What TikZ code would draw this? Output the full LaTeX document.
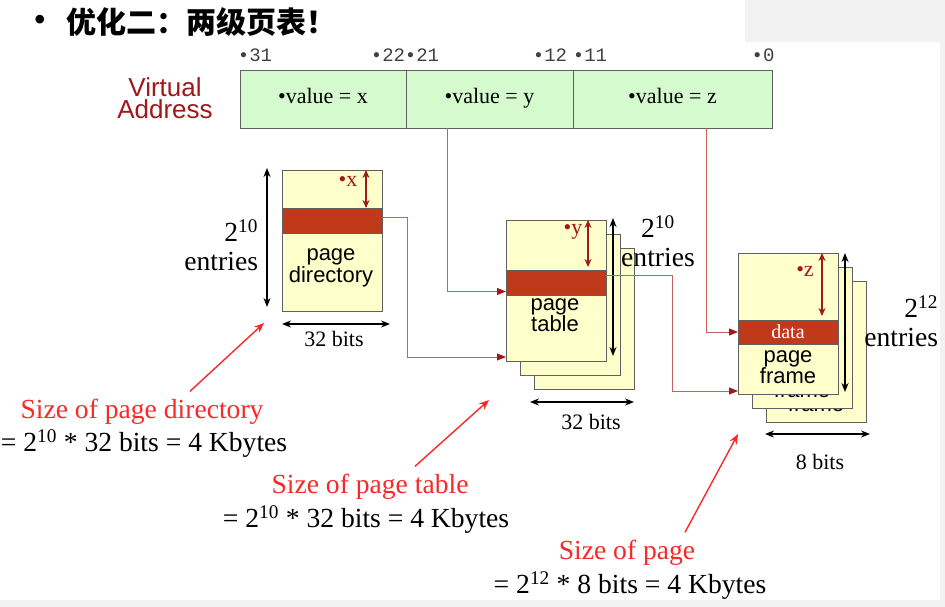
\documentclass[tikz,border=0pt]{standalone}
\usepackage{fontspec}
\setmainfont{Liberation Serif}
\setsansfont{Liberation Sans}
\setmonofont{Liberation Mono}
\newfontfamily\cjk{Noto Sans CJK SC}
\usetikzlibrary{arrows.meta, positioning, calc}
\definecolor{vagreen}{RGB}{212,250,206}
\definecolor{pageyellow}{RGB}{255,255,204}
\definecolor{bandred}{RGB}{192,57,27}
\definecolor{darkred}{RGB}{160,24,24}
\definecolor{linkred}{RGB}{200,96,96}
\definecolor{notered}{RGB}{250,40,40}
\definecolor{boxgray}{RGB}{96,96,96}
\definecolor{slidegray}{RGB}{242,242,242}

\begin{document}
\begin{tikzpicture}[
		x=1pt, y=-1pt,
		every node/.style={inner sep=0pt, outer sep=0pt},
		serifbig/.style={font=\fontsize{27.6}{29}\selectfont},
		serifsmall/.style={font=\fontsize{22}{22}\selectfont},
		vafield/.style={
				draw=boxgray,
				fill=vagreen,
				minimum height=58pt,
				anchor=north west,
				text height=14pt, % same baseline in every field
				text depth=5pt,
				serifsmall
			},
		bitno/.style={font=\ttfamily\fontsize{19}{19}\selectfont, text=black!75},
		page/.style={
				draw=boxgray,
				fill=pageyellow,
				minimum width=100pt,
				minimum height=141pt,
				anchor=north west
			},
		band/.style={draw=boxgray, fill=bandred, minimum width=100pt, anchor=north west},
		pagename/.style={font=\sffamily\fontsize{22}{18}\selectfont, align=center},
		ptrlbl/.style={serifsmall, text=darkred},
		ptr/.style={draw=darkred, line width=1.4pt, {Stealth[length=8pt,width=7pt]}-{Stealth[length=8pt,width=7pt]}},
		dim/.style={draw=black, line width=1.6pt, {Stealth[length=9pt,width=7pt]}-{Stealth[length=9pt,width=7pt]}},
		link/.style={draw=linkred, line width=1pt, -{Triangle[length=9pt,width=7pt,color=darkred]}},
		note/.style={draw=notered, line width=1.4pt, -{Stealth[length=10pt,width=8pt]}}
	]
	\useasboundingbox (0,0) rectangle (945,607);
	% slide background
	\fill[slidegray] (0,0) rectangle (945,607);
	\fill[white] (0,0) -- (745,0) -- (745,42) -- (940,42) -- (940,600) -- (0,600) -- cycle;

	% title
	\node[font=\sffamily\bfseries\fontsize{30}{30}\selectfont] (bul) at (40,22) {•};
	\node[font=\cjk\bfseries\fontsize{30}{30}\selectfont, anchor=west] (title) at (66,22) {优化二：两级页表！};

	% virtual address
	\node[font=\sffamily\fontsize{26}{22}\selectfont, text=darkred, align=center] (valabel) at (165,98) {Virtual\\Address};
	\node[vafield, minimum width=166pt] (vx) at (240,70) {•value = x};
	\node[vafield, minimum width=167pt] (vy) at (vx.north east) {•value = y};
	\node[vafield, minimum width=199pt] (vz) at (vy.north east) {•value = z};
	\foreach \bx/\bt in {255/31, 388/22, 422/21, 550/12, 590/11, 763/0}
	\node[bitno] (b\bt) at (\bx,55) {•\bt};

	% page directory
	\node[page] (pd) at (282,170) {};
	\node[band, minimum height=25pt] (pdband) at (282,208) {};
	\node[pagename] (pdname) at (331,268) {page\\directory};
	\node[ptrlbl] (xlbl) at (348,181) {•x};
	\draw[ptr] ([xshift=34pt]pd.north) -- ([xshift=34pt]pdband.north);
	\draw[dim] ([xshift=-15pt,yshift=2pt]pd.north west) -- ([xshift=-15pt,yshift=4pt]pd.south west);
	\node[serifbig, align=right, anchor=east] (pdent) at (258,245) {2\textsuperscript{10}\\entries};
	\draw[dim] ([yshift=-13pt]pd.south west) -- ([xshift=8pt,yshift=-13pt]pd.south east);
	\node[serifsmall] (pdbits) at (334,339) {32 bits};

	% page table
	\node[page] (pt3) at (534,248) {};
	\node[page] (pt2) at (520,234) {};
	\node[page] (pt) at (506,220) {};
	\node[band, minimum height=25pt] (ptband) at (506,270) {};
	\node[pagename] (ptname) at (555,315) {page\\table};
	\node[ptrlbl] (ylbl) at (573,232) {•y};
	\draw[ptr] ([xshift=32pt]pt.north) -- ([xshift=32pt,yshift=3pt]ptband.north);
	\draw[dim] ([xshift=7pt,yshift=2pt]pt.north east) -- ([xshift=7pt,yshift=5pt]pt.south east);
	\node[serifbig, align=center] (ptent) at (658,241) {2\textsuperscript{10}\\entries};
	\draw[dim] ([xshift=-4pt,yshift=-13pt]pt3.south west) -- ([yshift=-13pt]pt3.south east);
	\node[serifsmall] (ptbits) at (591,422) {32 bits};

	% page frames
	\node[page] (pf3) at (766,281) {};
	\node[pagename] (pf3name) at (816,395) {page\\frame};
	\node[page] (pf2) at (752,267) {};
	\node[pagename] (pf2name) at (802,381) {page\\frame};
	\node[page] (pf) at (738,253) {};
	\node[band, minimum height=24pt, text=white, font=\fontsize{20}{20}\selectfont] (pfband) at (738,320) {data};
	\node[pagename] (pfname) at (788,367) {page\\frame};
	\node[ptrlbl] (zlbl) at (805,271) {•z};
	\draw[ptr] ([xshift=34pt]pf.north) -- ([xshift=34pt,yshift=4pt]pfband.north);
	\draw[dim] ([xshift=7pt]pf.north east) -- ([xshift=7pt,yshift=2pt]pf.south east);
	\node[serifbig, align=right, anchor=east] (pfent) at (938,321) {2\textsuperscript{12}\\entries};
	\draw[dim] ([xshift=-1pt,yshift=-12pt]pf3.south west) -- ([xshift=4pt,yshift=-12pt]pf3.south east);
	\node[serifsmall] (pfbits) at (820,462) {8 bits};

	% links between the tables
	\draw[link] ([yshift=3pt]pdband.east) -- ++(25,0) |- ([yshift=4pt]pt.south west);
	\draw[link] ([xshift=-42pt]vy.south) |- ([yshift=-9pt]ptband.west);
	\draw[link] ([yshift=7pt]ptband.east) -- ++(66,0) |- ([yshift=3pt]pf.south west);
	\draw[link] ([xshift=34pt]vz.south) |- (pfband.west);

	% sizes
	\node[serifbig, text=notered] (szpd) at (142,412) {Size of page directory};
	\node[serifbig] (eqpd) at (144,444) {= 2\textsuperscript{10} * 32 bits = 4 Kbytes};
	\coordinate (pdtip) at ([xshift=-18pt,yshift=-12pt]pd.south west);
	\draw[note] ([xshift=48pt,yshift=8pt]szpd.north) -- (pdtip);

	\node[serifbig, text=notered] (szpt) at (370,487) {Size of page table};
	\node[serifbig] (eqpt) at (366,520) {= 2\textsuperscript{10} * 32 bits = 4 Kbytes};
	\coordinate (pttip) at ([xshift=-17pt,yshift=-39pt]pt.south west);
	\draw[note] ([xshift=45pt,yshift=8pt]szpt.north) -- (pttip);

	\node[serifbig, text=notered] (szpf) at (627,553) {Size of page};
	\node[serifbig] (eqpf) at (630,586) {= 2\textsuperscript{12} * 8 bits = 4 Kbytes};
	\coordinate (pftip) at ([xshift=-28pt,yshift=-12pt]pf3.south west);
	\draw[note] ([xshift=58pt,yshift=8pt]szpf.north) -- (pftip);
\end{tikzpicture}
\end{document}
